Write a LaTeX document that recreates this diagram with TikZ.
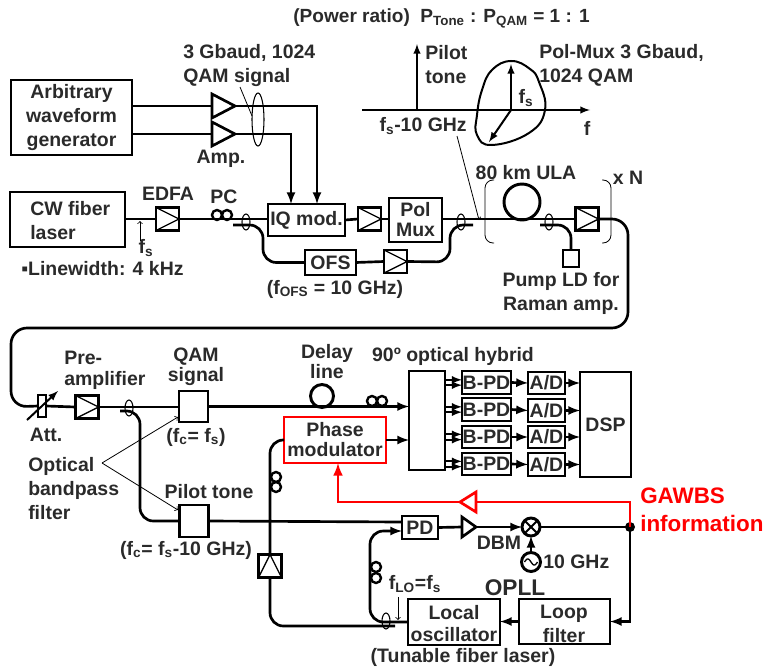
\documentclass[tikz,border=0pt]{standalone}
\usepackage{amsmath}
\usepackage{fontspec}
\setmainfont{Liberation Sans}
\usetikzlibrary{shapes.geometric}
\definecolor{textDark}{RGB}{42,42,42}
\definecolor{infoRed}{RGB}{255,0,0}
\def\px{0.75pt}
\newcommand{\sbs}[1]{$_{\text{#1}}$}
\tikzset{
  lbl/.style={font=\bfseries\fontsize{14.6}{18}\selectfont, text=textDark, align=center, inner sep=0pt},
  lblw/.style={lbl, align=left, anchor=west},
  tight/.style={font=\bfseries\fontsize{14.6}{15}\selectfont},
  box/.style 2 args={draw, line width=2.2pt, inner sep=0pt, outer sep=0pt, align=center,
    font=\bfseries\fontsize{14.6}{18}\selectfont, text=textDark,
    minimum width=#1*\px, minimum height=#2*\px},
  ampbox/.style={box={23}{23}, path picture={
    \draw[line width=1pt] (path picture bounding box.north west) -- (path picture bounding box.east) -- (path picture bounding box.south west);}},
  ampup/.style={box={23}{23}, path picture={
    \draw[line width=1pt] (path picture bounding box.south west) -- (path picture bounding box.north) -- (path picture bounding box.south east);}},
  tri/.style 2 args={isosceles triangle, isosceles triangle stretches, draw, line width=2pt,
    inner sep=0pt, outer sep=0pt, anchor=apex, minimum width=#2*\px, minimum height=#1*\px},
  coupler/.style={ellipse, draw, line width=0.8pt, inner sep=0pt, outer sep=0pt, minimum width=8*\px, minimum height=16*\px},
  pcloop/.style={circle, draw, line width=1.8pt, inner sep=0pt, outer sep=0pt, minimum size=10*\px},
  fiber/.style={line width=2pt, >=latex},
  fiberbend/.style={fiber, rounded corners=10pt},
  thinline/.style={line width=0.6pt},
  redline/.style={line width=2.2pt, infoRed, >=latex}
}
\begin{document}
\begin{tikzpicture}[x=0.75pt,y=-0.75pt]
\useasboundingbox (0,0) rectangle (764,671);

\node[lbl, font=\bfseries\fontsize{14.3}{18}\selectfont] (ratio) at (441.5,18) {(Power ratio)\ \ P\sbs{Tone} : P\sbs{QAM} = 1 : 1};

% transmitter
\node[box={121}{75}] (awg) at (71.5,117.5) {Arbitrary\\waveform\\generator};
\node[tri={23}{24}] (ampi) at (235,106) {};
\node[tri={23}{24}] (ampq) at (235,134) {};
\node[lblw] (baud) at (183,65.5) {3 Gbaud, 1024\\QAM signal};
\node[coupler, minimum width=12*\px, minimum height=53*\px] (bundle) at (258,119.5) {};
\coordinate (bundlept) at (240,87);
\node[lbl] (amplbl) at (221,159) {Amp.};
\node[box={115}{55}] (cw) at (67.5,219.5) {};
\node[lblw] (cwlbl) at (30,221) {CW fiber\\laser};
\node[ampbox] (edfa) at (167.5,219) {};
\node[lbl] (edfalbl) at (168,194) {EDFA};
\node[lbl] (pclbl) at (224,197) {PC};
\node[pcloop] (pca) at (217,215) {};
\node[pcloop] (pcb) at (227,215) {};
\node[coupler] (cpa) at (246,222) {};
\node[box={77}{32}] (iq) at (306.5,220) {IQ mod.};
\coordinate (iqi) at (291,204);
\coordinate (iqq) at (317,204);
\node[ampbox] (ampa) at (369.5,219) {};
\node[box={53}{44}, tight] (pol) at (415.5,220) {Pol\\Mux};
\node[box={51}{25}] (ofs) at (330.5,262.5) {OFS};
\node[ampbox] (ampb) at (395.5,261.5) {};
\node[lbl] (ofslbl) at (335,289) {(f\sbs{OFS} = 10 GHz)};
\node[coupler] (cpb) at (461,222) {};
\coordinate (ofsin) at (233,225);
\coordinate (ofsout) at (473,225);
\coordinate (fsa) at (140,241);
\coordinate (fsb) at (140,221);
\node[lbl] (fslbl) at (146,248) {f\sbs{s}};
\node[lblw] (width) at (21,269) {▪Linewidth: 4 kHz};

% spectrum
\coordinate (specl) at (362,110);
\coordinate (specr) at (590,110);
\coordinate (tonea) at (417,110);
\coordinate (toneb) at (417,44);
\coordinate (qama) at (511,110);
\coordinate (qamb) at (511,64);
\coordinate (qamc) at (489,142);
\draw[fiber, line width=1.5pt, ->] (specl) -- (specr);
\draw[fiber, line width=1.5pt, ->] (tonea) -- (toneb);
\draw[fiber, line width=1.5pt, ->] (qama) -- (qamb);
\draw[fiber, line width=1.5pt, ->] (qama) -- (qamc);
\draw[line width=1.5pt] plot[smooth cycle, tension=0.75] coordinates {(511,61) (530,69) (539,82) (545,110) (529,133) (492,145) (477,135) (477,115) (482,90) (492,70)};
\node[lblw] (tonelbl) at (425,65) {Pilot\\tone};
\node[lblw] (pollbl) at (539,65) {Pol-Mux 3 Gbaud,\\1024 QAM};
\node[lbl] (fsqam) at (526,98) {f\sbs{s}};
\node[lbl] (flbl) at (587,128) {f};
\node[lbl, anchor=east] (fslow) at (467,126) {f\sbs{s}-10 GHz};
\coordinate (fslowa) at (457,136);
\coordinate (fslowb) at (479,220);

% span
\node[lbl] (spanlbl) at (526,173) {80 km ULA};
\node[lbl] (xn) at (628,178) {x N};
\node[circle, draw, line width=2.2pt, inner sep=0pt, outer sep=0pt, minimum size=36*\px] (spool) at (522,202) {};
\node[coupler] (cpc) at (549,222) {};
\node[ampbox] (ampc) at (587,219) {};
\node[box={16}{17}] (pump) at (571,258.5) {};
\node[lbl] (pumplbl) at (561,293) {Pump LD for\\Raman amp.};
\coordinate (pumpin) at (540,225);
\draw[thinline, rounded corners=6pt] (494,180) -- (485,180) -- (485,243) -- (494,243);
\draw[thinline, rounded corners=6pt] (602,180) -- (611,180) -- (611,243) -- (602,243);

% receiver
\node[box={8}{22}] (att) at (42,406) {};
\node[lbl] (attlbl) at (46,435) {Att.};
\coordinate (atta) at (27,420);
\coordinate (attb) at (58,391);
\node[ampbox] (pre) at (87,407) {};
\node[lblw, font=\bfseries\fontsize{14.6}{16}\selectfont] (prelbl) at (64,370.5) {Pre-\\amplifier};
\node[coupler] (cpd) at (129,408) {};
\coordinate (filtin) at (120,411);
\node[box={29}{31}] (qamf) at (193.5,406.5) {};
\node[lbl, tight] (qamlbl) at (196,367) {QAM\\signal};
\node[lbl] (qamfc) at (196,437) {(f\sbs{c}= f\sbs{s})};
\node[box={29}{32}] (tonef) at (194,521) {};
\node[lbl] (tonef2) at (209,492) {Pilot tone};
\node[lbl] (tonefc) at (186,550) {(f\sbs{c}= f\sbs{s}-10 GHz)};
\node[lblw] (optlbl) at (28,488.5) {Optical\\bandpass\\filter};
\coordinate (optp) at (102,463);
\coordinate (opta) at (178,417);
\coordinate (optb) at (178,510);
\node[circle, draw, line width=2.2pt, inner sep=0pt, outer sep=0pt, minimum size=23*\px] (delay) at (322,396) {};
\node[lbl, tight] (delaylbl) at (327,362) {Delay\\line};
\node[pcloop] (pcc) at (372,401) {};
\node[pcloop] (pcd) at (382,401) {};
\node[lbl] (hyblbl) at (453,356) {90º optical hybrid};
\node[box={36}{99}] (hyb) at (427,420.5) {};
\node[box={102}{46}, tight, draw=infoRed] (phase) at (335,440) {Phase\\modulator};
\node[pcloop] (pce) at (276,477) {};
\node[pcloop] (pcf) at (276,487) {};
\node[ampup] (ampv) at (270,566) {};
\node[box={49}{23}] (bpda) at (486.5,382.5) {B-PD};
\node[box={49}{23}] (bpdb) at (486.5,409.5) {B-PD};
\node[box={49}{22}] (bpdc) at (486.5,437) {B-PD};
\node[box={49}{22}] (bpdd) at (486.5,464) {B-PD};
\node[box={37}{22}] (ada) at (546.5,383) {A/D};
\node[box={37}{23}] (adb) at (546.5,410.5) {A/D};
\node[box={37}{22}] (adc) at (546.5,437) {A/D};
\node[box={37}{23}] (add) at (546.5,464.5) {A/D};
\node[box={51}{105}] (dsp) at (605.5,424.5) {DSP};

% loop
\node[box={36}{23}] (pd) at (420,527.5) {PD};
\node[tri={14}{20}] (ampe) at (476,527) {};
\node[lbl] (dbm) at (499,543) {DBM};
\node[circle, draw, line width=2.2pt, inner sep=0pt, outer sep=0pt, minimum size=18*\px] (mix) at (531,527) {};
\node[circle, draw, line width=2.2pt, inner sep=0pt, outer sep=0pt, minimum size=19*\px] (osc) at (531,562) {};
\draw[line width=1pt, domain=-1:1, samples=25] plot ({531+6.5*\x},{562+3*sin(180*\x)});
\node[lblw] (ghz) at (543,562) {10 GHz};
\node[circle, fill=black, inner sep=0pt, outer sep=0pt, minimum size=10*\px] (dot) at (630,527) {};
\node[lblw, text=infoRed, font=\bfseries\fontsize{16.8}{21}\selectfont] (gawbs) at (640,510) {GAWBS\\information};
\node[tri={16}{20}, shape border rotate=180, draw=infoRed, fill=white] (ampr) at (460,502) {};
\node[pcloop] (pcg) at (376,567) {};
\node[pcloop] (pch) at (376,578) {};
\node[box={92}{46}] (lo) at (454,622) {};
\node[lbl, font=\bfseries\fontsize{14.6}{16.5}\selectfont] (lolbl) at (454,624) {Local\\oscillator};
\node[box={91}{45}] (lf) at (564.5,621.5) {};
\node[lbl] (lflbl) at (564,624) {Loop\\filter};
\node[lbl, font=\bfseries\fontsize{17}{20}\selectfont] (opll) at (515,588) {OPLL};
\node[lbl] (flo) at (415,584) {f\sbs{LO}=f\sbs{s}};
\coordinate (floa) at (398,597);
\coordinate (flob) at (398,620);
\node[coupler] (cpe) at (386,621) {};
\node[lbl] (tunable) at (463,657) {(Tunable fiber laser)};
\coordinate (lofree) at (395,626);
\coordinate (pdt) at (402,522);
\coordinate (pdb) at (402,531);

% electrical paths
\draw[fiber] (awg.east |- ampi.lower side) -- (ampi.lower side);
\draw[fiber] (awg.east |- ampq.lower side) -- (ampq.lower side);
\draw[fiber, ->] (ampi.apex) -| (iqq);
\draw[fiber, ->] (ampq.apex) -| (iqi);
\draw[thinline] (bundlept) -- (bundle.150);

% optical paths
\draw[fiber] (cw.east |- edfa.west) -- (edfa.west);
\draw[fiber] (edfa.east) -- (iq.west |- edfa.east);
\draw[fiber] (iq.east) -- (ampa.west);
\draw[fiber] (ampa.east) -- (pol.west |- ampa.east);
\draw[fiber] (pol.east |- ampc.west) -- (ampc.west);
\draw[fiberbend, rounded corners=12pt] (ampc.east) -| (628,328) -| (11,407) -- (att.west);
\draw[fiberbend] (ofsin) -- (263,225) |- (ofs.west);
\draw[fiber] (ofs.east) -- (ampb.west);
\draw[fiberbend] (ampb.east) -- (450,262) |- (ofsout);
\draw[fiberbend] (pumpin) -| (pump.north);
\draw[thinline, ->] (fsa) -- (fsb);
\draw[thinline, ->] (fslowa) -- (fslowb);
\draw[line width=1.5pt, ->, >=latex] (atta) -- (attb);
\draw[fiber] (att.east) -- (pre.west);
\draw[fiber] (pre.east) -- (qamf.west |- pre.east);
\draw[fiberbend] (filtin) -- (140,411) |- (tonef.west);
\draw[fiber, ->] (qamf.east) -- (hyb.west |- qamf.east);
\draw[fiber, ->] (phase.east) -- (hyb.west |- phase.east);
\draw[thinline, ->] (optp) -- (opta);
\draw[thinline, ->] (optp) -- (optb);
\draw[fiber] (tonef.east) -- (pdt);
\draw[fiberbend] (ampv.north) |- (phase.west);
\draw[fiberbend] (lofree) -| (ampv.south);
\draw[fiberbend, ->] (lo.west) -| (370,531) -- (pdb);

% hybrid outputs
\draw[fiber, line width=1.6pt, ->] ([yshift=2pt]hyb.east |- bpda.west) -- ([yshift=2pt]bpda.west);
\draw[fiber, line width=1.6pt, ->] ([yshift=-2pt]hyb.east |- bpda.west) -- ([yshift=-2pt]bpda.west);
\draw[fiber, line width=1.6pt, ->] ([yshift=2pt]hyb.east |- bpdb.west) -- ([yshift=2pt]bpdb.west);
\draw[fiber, line width=1.6pt, ->] ([yshift=-2pt]hyb.east |- bpdb.west) -- ([yshift=-2pt]bpdb.west);
\draw[fiber, line width=1.6pt, ->] ([yshift=2pt]hyb.east |- bpdc.west) -- ([yshift=2pt]bpdc.west);
\draw[fiber, line width=1.6pt, ->] ([yshift=-2pt]hyb.east |- bpdc.west) -- ([yshift=-2pt]bpdc.west);
\draw[fiber, line width=1.6pt, ->] ([yshift=2pt]hyb.east |- bpdd.west) -- ([yshift=2pt]bpdd.west);
\draw[fiber, line width=1.6pt, ->] ([yshift=-2pt]hyb.east |- bpdd.west) -- ([yshift=-2pt]bpdd.west);
\draw[fiber, ->] (bpda.east) -- (ada.west);
\draw[fiber, ->] (bpdb.east) -- (adb.west);
\draw[fiber, ->] (bpdc.east) -- (adc.west);
\draw[fiber, ->] (bpdd.east) -- (add.west);
\draw[fiber, ->] (ada.east) -- (dsp.west |- ada.east);
\draw[fiber, ->] (adb.east) -- (dsp.west |- adb.east);
\draw[fiber, ->] (adc.east) -- (dsp.west |- adc.east);
\draw[fiber, ->] (add.east) -- (dsp.west |- add.east);

% phase locked loop
\draw[fiber] (pd.east) -- (ampe.lower side);
\draw[fiber, ->] (ampe.apex) -- (mix.west);
\draw[line width=1.5pt] (mix.north west) -- (mix.south east);
\draw[line width=1.5pt] (mix.north east) -- (mix.south west);
\draw[fiber, ->] (osc.north) -- (mix.south);
\draw[fiber] (mix.east) -- (dot.center);
\draw[fiber, ->] (dot.center) |- (lf.east);
\draw[fiber, ->] (lf.west) -- (lo.east |- lf.west);
\draw[thinline, ->] (floa) -- (flob);
\draw[redline] (dot.center) |- (ampr.lower side);
\draw[redline, ->] (ampr.apex) -| (338,463);
\end{tikzpicture}
\end{document}
